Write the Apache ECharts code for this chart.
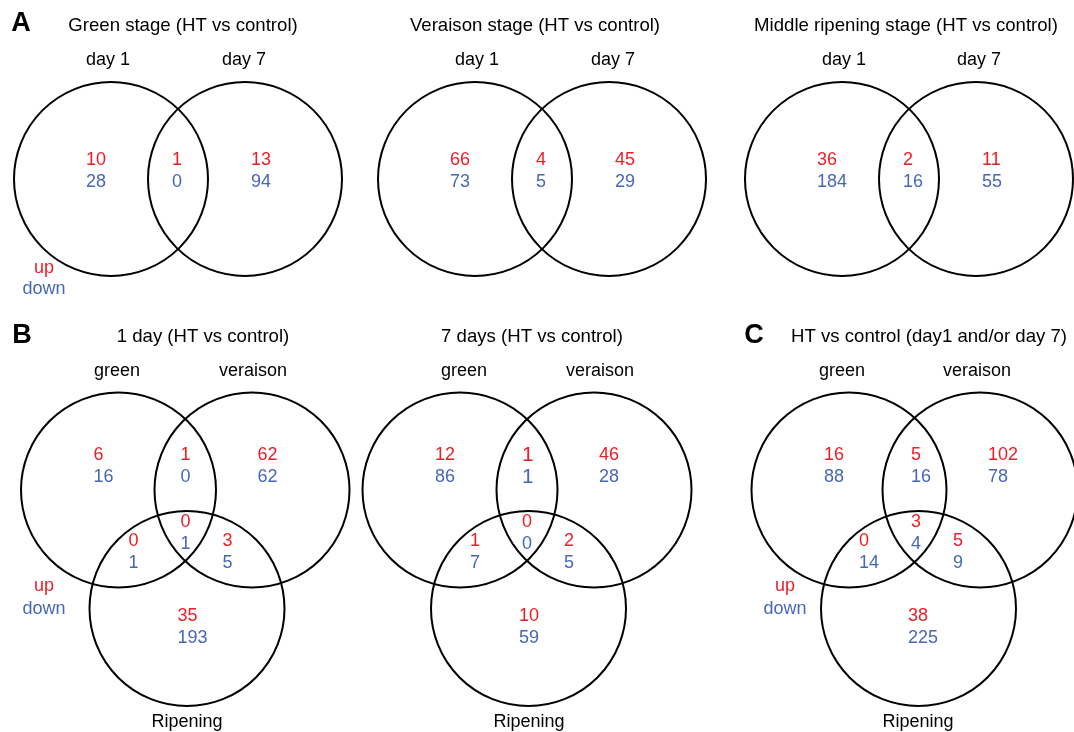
<!DOCTYPE html>
<html>
<head>
<meta charset="utf-8">
<script src="https://cdn.jsdelivr.net/npm/echarts@6/dist/echarts.min.js"></script>
<style>
html,body{margin:0;padding:0;background:#fff;}
#chart{width:1074px;height:732px;}
</style>
</head>
<body>
<div id="chart"></div>
<script>
// ---------------- data ----------------
const panelLetters = ['A', 'B', 'C'];
const titlesA = ['Green stage (HT vs control)', 'Veraison stage (HT vs control)', 'Middle ripening stage (HT vs control)'];
const titlesBC = ['1 day (HT vs control)', '7 days (HT vs control)', 'HT vs control (day1 and/or day 7)'];
const setsA = ['day 1', 'day 7'];
const setsBC = ['green', 'veraison', 'Ripening'];
const legendLabels = ['up', 'down'];
// two-set regions: [day1 only, both, day7 only]
const upA = [[10, 1, 13], [66, 4, 45], [36, 2, 11]];
const downA = [[28, 0, 94], [73, 5, 29], [184, 16, 55]];
// three-set regions: [green only, green∩veraison, veraison only, green∩ripening, all, veraison∩ripening, ripening only]
const upB1 = [6, 1, 62, 0, 0, 3, 35];
const downB1 = [16, 0, 62, 1, 1, 5, 193];
const upB2 = [12, 1, 46, 1, 0, 2, 10];
const downB2 = [86, 1, 28, 7, 0, 5, 59];
const upC = [16, 5, 102, 0, 3, 5, 38];
const downC = [88, 16, 78, 14, 4, 9, 225];

// ---------------- layout (pixel space of a hidden 1074x732 cartesian grid) ----------------
const RED = '#ee1d25', BLUE = '#4767b7', BLACK = '#000';
const FONT = '"Liberation Sans", Arial, sans-serif';
const TITLE_SIZE = 18.6;
const layA = [
  { cx: 111, title: 183, s1: 108, s2: 244 },
  { cx: 475, title: 535, s1: 477, s2: 613 },
  { cx: 842, title: 906, s1: 844, s2: 979 }
];
const A_CY = 179, A_SEP = 134, A_R = 97;
const A_DX = [-25, 61, 140], A_DY = -19, ROW = 22;
const layBC = [
  { cx: 118.5, sepR: 133.5, sepB: 68.5, title: 203, s1: 117, s2: 253, s3: 187 },
  { cx: 460, sepR: 134, sepB: 68.5, title: 532, s1: 464, s2: 600, s3: 529 },
  { cx: 849, sepR: 131, sepB: 69.5, title: 929, s1: 842, s2: 977, s3: 918 }
];
const BC_CY = 490, BC_CYB = 608.5, BC_R = 97.5;
const BC_DX = [-25, 62, 139, 10, 62, 104, 59];
const BC_DY = [-35, -35, -35, 51, 32, 51, 126];
const bigCells = { 1: [1] }; // panel B2, green∩veraison drawn larger

const upBC = [upB1, upB2, upC];
const downBC = [downB1, downB2, downC];

// circles: [cx, cy, r]
const circles = [];
layA.forEach(p => {
  circles.push([p.cx, A_CY, A_R]);
  circles.push([p.cx + A_SEP, A_CY, A_R]);
});
layBC.forEach(p => {
  circles.push([p.cx, BC_CY, BC_R]);
  circles.push([p.cx + p.sepR, BC_CY, BC_R]);
  circles.push([p.cx + p.sepB, BC_CYB, BC_R]);
});

// texts
const texts = [];
function T(x, y, text, color, size, weight, align) {
  texts.push({ value: [x, y], text: String(text), color, size, weight: weight || 'normal', align: align || 'center' });
}
// panel letters
T(21, 24, panelLetters[0], BLACK, 27, 'bold');
T(22, 336, panelLetters[1], BLACK, 27, 'bold');
T(754, 336, panelLetters[2], BLACK, 27, 'bold');

layA.forEach((p, i) => {
  T(p.title, 26, titlesA[i], BLACK, TITLE_SIZE);
  T(p.s1, 60, setsA[0], BLACK, 18);
  T(p.s2, 60, setsA[1], BLACK, 18);
  for (let k = 0; k < 3; k++) {
    T(p.cx + A_DX[k], A_CY + A_DY, upA[i][k], RED, 18, 'normal', 'left');
    T(p.cx + A_DX[k], A_CY + A_DY + ROW, downA[i][k], BLUE, 18, 'normal', 'left');
  }
});
T(44, 268, legendLabels[0], RED, 18);
T(44, 289, legendLabels[1], BLUE, 18);

layBC.forEach((p, i) => {
  T(p.title, 337, titlesBC[i], BLACK, TITLE_SIZE);
  T(p.s1, 371, setsBC[0], BLACK, 18);
  T(p.s2, 371, setsBC[1], BLACK, 18);
  T(p.s3, 722, setsBC[2], BLACK, 18);
  for (let k = 0; k < 7; k++) {
    const big = bigCells[i] && bigCells[i].indexOf(k) >= 0;
    const fs = big ? 21 : 18;
    T(p.cx + BC_DX[k], BC_CY + BC_DY[k], upBC[i][k], RED, fs, 'normal', 'left');
    T(p.cx + BC_DX[k], BC_CY + BC_DY[k] + ROW, downBC[i][k], BLUE, fs, 'normal', 'left');
  }
});
T(44, 586, legendLabels[0], RED, 18);
T(44, 609, legendLabels[1], BLUE, 18);
T(785, 586, legendLabels[0], RED, 18);
T(785, 609, legendLabels[1], BLUE, 18);

const chart = echarts.init(document.getElementById('chart'), null, { renderer: 'canvas' });
chart.setOption({
  backgroundColor: '#fff',
  animation: false,
  grid: { left: 0, right: 0, top: 0, bottom: 0 },
  xAxis: { type: 'value', min: 0, max: 1074, show: false },
  yAxis: { type: 'value', min: 0, max: 732, inverse: true, show: false },
  series: [
    {
      type: 'custom',
      coordinateSystem: 'cartesian2d',
      silent: true,
      clip: false,
      data: circles,
      encode: { x: 0, y: 1 },
      renderItem: function (params, api) {
        const c = api.coord([api.value(0), api.value(1)]);
        const r = api.size([api.value(2), 0])[0];
        return {
          type: 'circle',
          shape: { cx: c[0], cy: c[1], r: r },
          style: { fill: 'none', stroke: '#000', lineWidth: 2 }
        };
      }
    },
    {
      type: 'custom',
      coordinateSystem: 'cartesian2d',
      silent: true,
      clip: false,
      data: texts.map(t => t.value),
      encode: { x: 0, y: 1 },
      renderItem: function (params, api) {
        const t = texts[params.dataIndex];
        const c = api.coord([api.value(0), api.value(1)]);
        return {
          type: 'text',
          x: c[0], y: c[1],
          style: {
            text: t.text,
            fill: t.color,
            fontSize: t.size,
            fontWeight: t.weight,
            fontFamily: FONT,
            align: t.align,
            verticalAlign: 'middle'
          }
        };
      }
    }
  ]
});
</script>
</body>
</html>
